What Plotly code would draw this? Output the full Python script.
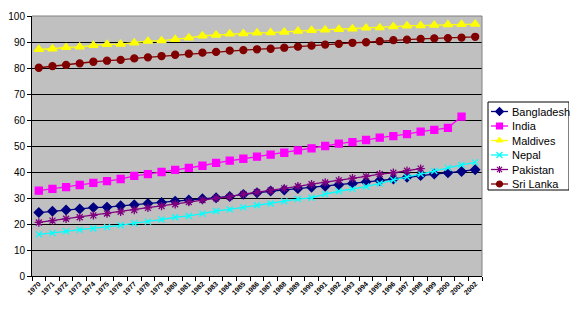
import plotly.graph_objects as go

years = [str(y) for y in range(1970, 2003)]

bangladesh = [24.4, 24.9, 25.4, 25.8, 26.3, 26.5, 27.0, 27.4, 27.9, 28.3, 28.8, 29.2,
              29.7, 30.1, 30.6, 31.4, 32.0, 32.7, 33.1, 33.6, 34.1, 34.5, 35.1, 35.6,
              36.2, 36.7, 37.3, 38.0, 38.6, 39.2, 39.7, 40.2, 40.9]
india = [32.8, 33.5, 34.2, 35.0, 35.8, 36.5, 37.3, 38.5, 39.2, 40.0, 40.8, 41.6,
         42.4, 43.5, 44.4, 45.1, 45.9, 46.7, 47.4, 48.3, 49.1, 50.0, 50.9, 51.5,
         52.3, 53.2, 53.8, 54.6, 55.5, 56.2, 57.0, 61.3, None]
maldives = [87.2, 87.4, 87.9, 88.1, 88.7, 89.1, 89.2, 89.7, 90.3, 90.5, 91.0, 91.6,
            92.4, 92.7, 93.1, 93.2, 93.5, 93.6, 93.8, 94.2, 94.5, 94.7, 94.9, 95.1,
            95.4, 95.5, 95.9, 96.2, 96.3, 96.5, 96.7, 96.8, 96.9]
nepal = [16.0, 16.5, 17.2, 17.8, 18.3, 18.8, 19.5, 20.3, 20.9, 21.7, 22.6, 23.1,
         24.0, 25.0, 25.6, 26.4, 27.2, 27.9, 28.7, 29.6, 30.1, 31.5, 32.6, 33.5,
         34.4, 35.6, 36.9, 38.1, 39.2, 40.4, 41.6, 42.7, 43.7]
pakistan = [20.6, 21.3, 22.0, 22.6, 23.3, 24.0, 24.7, 25.4, 26.2, 26.9, 27.6, 28.4,
            29.2, 29.9, 30.5, 31.5, 32.2, 32.9, 33.7, 34.5, 35.3, 36.0, 36.8, 37.6,
            38.3, 39.2, 39.7, 40.5, 41.3, None, None, None, None]
sri_lanka = [80.1, 80.7, 81.2, 81.8, 82.4, 82.8, 83.1, 83.7, 84.1, 84.6, 85.1, 85.5,
             85.9, 86.2, 86.7, 86.9, 87.2, 87.4, 87.8, 88.2, 88.6, 89.0, 89.3, 89.7,
             89.9, 90.3, 90.7, 90.9, 91.2, 91.4, 91.5, 91.7, 92.0]

names = ["Bangladesh", "India", "Maldives", "Nepal", "Pakistan", "Sri Lanka"]
values = [bangladesh, india, maldives, nepal, pakistan, sri_lanka]
colors = ["#000080", "#FF00FF", "#FFFF00", "#00FFFF", "#800080", "#800000"]
symbols = ["diamond", "square", "triangle-up", "x-thin-open", "asterisk-open", "circle"]
sizes = [7, 7, 8, 6, 7, 7]

# figure geometry (pixels)
W, H = 575, 312
ML, MR, MT, MB = 32, 6, 16, 36
PLOT_RIGHT = 482
LEG_L, LEG_R, LEG_T, LEG_B = 488, 569, 102, 190
avail_w = W - ML - MR
avail_h = H - MT - MB

fig = go.Figure()
for name, vals, color, sym, size in zip(names, values, colors, symbols, sizes):
    fig.add_trace(go.Scatter(
        x=years, y=vals, name=name, mode="lines+markers",
        line=dict(color=color, width=1.3),
        marker=dict(symbol=sym, size=size, color=color,
                    line=dict(color=color, width=1.3)),
        connectgaps=False, showlegend=False,
    ))

# custom legend (compact, Excel-like) drawn on an auxiliary axis pair
row0, row_gap = LEG_T + 9.5, 14.5
sample_x0, sample_x1 = LEG_L + 3, LEG_L + 20
for i, (name, color, sym) in enumerate(zip(names, colors, symbols)):
    yy = row0 + i * row_gap
    fig.add_trace(go.Scatter(
        x=[sample_x0, sample_x1], y=[yy, yy], mode="lines",
        line=dict(color=color, width=1.3), xaxis="x2", yaxis="y2",
        showlegend=False, hoverinfo="skip",
    ))
    fig.add_trace(go.Scatter(
        x=[(sample_x0 + sample_x1) / 2], y=[yy], mode="markers",
        marker=dict(symbol=sym, size=6, color=color, line=dict(color=color, width=1.2)),
        xaxis="x2", yaxis="y2", showlegend=False, hoverinfo="skip",
    ))
    fig.add_annotation(
        x=sample_x1 + 1.5, y=yy, xref="x2", yref="y2", text=name,
        showarrow=False, xanchor="left", yanchor="middle",
        font=dict(size=11, family="Arial, Liberation Sans", color="black"),
    )
fig.add_shape(type="rect", xref="x2", yref="y2", x0=LEG_L, x1=LEG_R, y0=LEG_T, y1=LEG_B,
              line=dict(color="black", width=1), fillcolor="rgba(0,0,0,0)", layer="below")

fig.update_layout(
    width=W, height=H,
    margin=dict(l=ML, r=MR, t=MT, b=MB),
    paper_bgcolor="white",
    plot_bgcolor="white",
    font=dict(family="Arial, Liberation Sans", size=10, color="black"),
    showlegend=False,
    xaxis=dict(
        domain=[0, (PLOT_RIGHT - ML) / avail_w],
        type="category", range=[-0.5, 32.5],
        tickson="boundaries", ticks="outside", ticklen=4, tickcolor="black",
        tickangle=-45,
        tickfont=dict(size=7, family="Arial, Liberation Sans", color="black", weight="bold"),
        showline=True, linecolor="black", linewidth=1, mirror=False,
        showgrid=False, zeroline=False,
    ),
    yaxis=dict(
        range=[0, 100], dtick=10, ticks="outside", ticklen=4, tickcolor="black",
        showline=True, linecolor="black", linewidth=1,
        showgrid=True, gridcolor="black", gridwidth=1, zeroline=False,
        tickfont=dict(size=10),
    ),
    xaxis2=dict(
        domain=[(LEG_L - 1 - ML) / avail_w, 1.0], range=[LEG_L - 1, W - MR],
        anchor="y2", visible=False, fixedrange=True,
    ),
    yaxis2=dict(
        domain=[0, 1], range=[MT + avail_h, MT],
        anchor="x2", visible=False, fixedrange=True,
    ),
)
# grey plot-area background and border on top/right
fig.add_shape(type="rect", xref="x domain", yref="y domain", x0=0, x1=1, y0=0, y1=1,
              fillcolor="#C0C0C0", line=dict(width=0), layer="below")
fig.add_shape(type="line", xref="x domain", yref="y domain", x0=0, x1=1, y0=1, y1=1,
              line=dict(color="#808080", width=1))
fig.add_shape(type="line", xref="x domain", yref="y domain", x0=1, x1=1, y0=0, y1=1,
              line=dict(color="#808080", width=1))

fig.write_html("out.html")
